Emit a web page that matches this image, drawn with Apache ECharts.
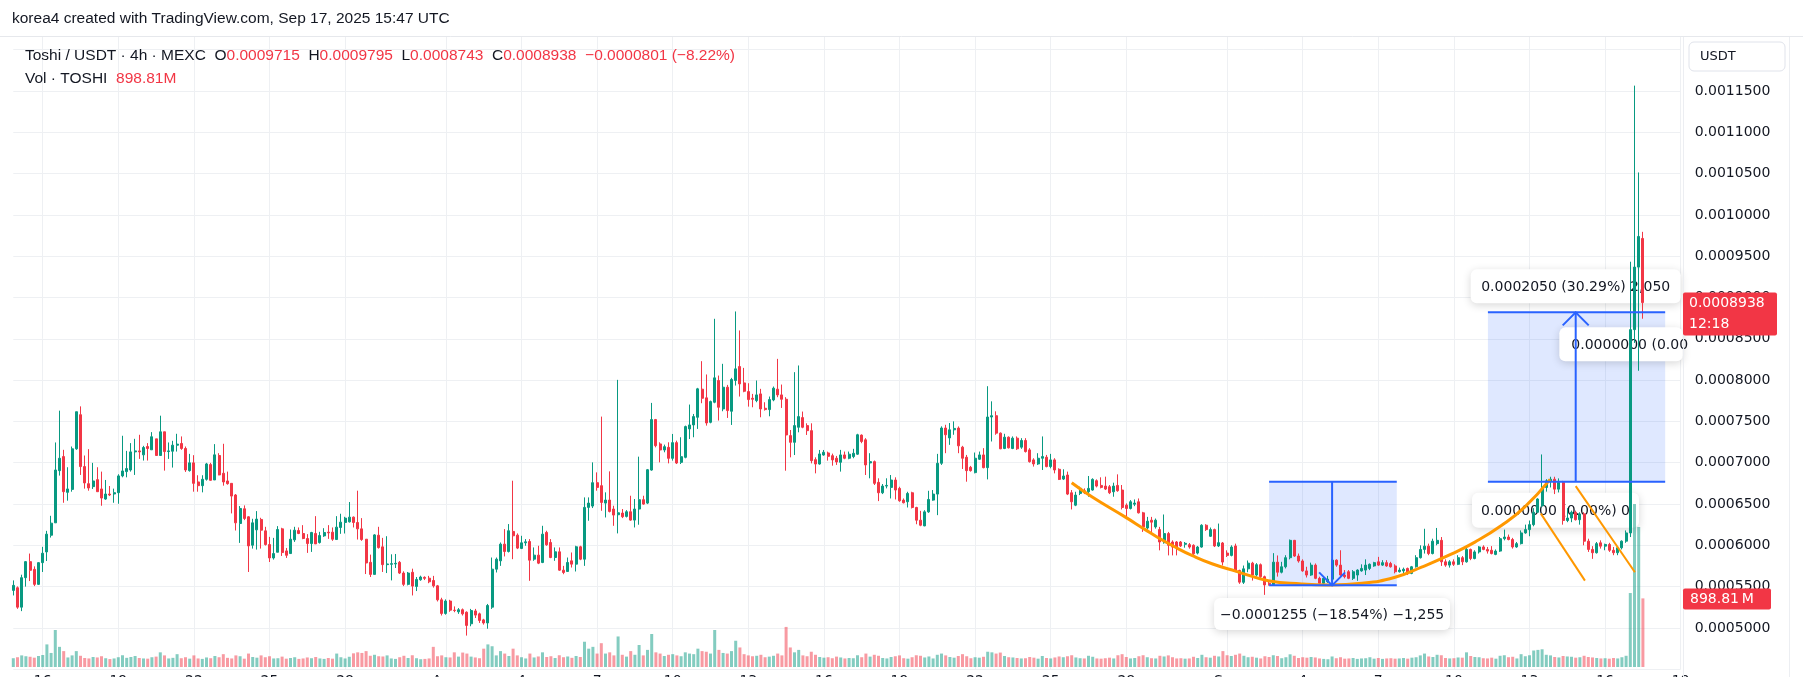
<!DOCTYPE html>
<html>
<head>
<meta charset="utf-8">
<title>Toshi / USDT · 4h · MEXC</title>
<script src="https://cdn.jsdelivr.net/npm/echarts@6/dist/echarts.min.js"></script>
<style>
html,body{margin:0;padding:0;background:#ffffff;overflow:hidden;}
#chart{width:1803px;height:677px;}
</style>
</head>
<body>
<div id="chart"></div>
<script>
// ================= DATA =================
const PRICE_UNIT = 1e-7;                       // prices below are in units of 0.0000001 USDT
const firstCandleUTC = Date.UTC(2025, 6, 14, 20, 0);
const candleHours = 4;
const categoryCount = 398;                     // visible time slots (data + right margin)

// [open, high, low, close]
const candlesJul = [
[5454,5575,5393,5515],[5486,5502,5231,5251],[5251,5644,5203,5608],[5608,5810,5500,5802],[5802,5900,5567,5697],
[5709,5745,5506,5527],[5527,5794,5519,5790],[5790,5981,5677,5904],[5920,6175,5810,6135],[6122,6357,6094,6268],
[6272,7245,6272,6912],[6904,7630,6844,7054],[7074,7156,6515,6649],[6641,6945,6540,6682],[6677,7196,6649,7168],
[7168,7617,7156,7617],[7581,7682,6852,6953],[6953,7087,6686,6755],[6746,7164,6661,6694],[6710,6998,6682,6779],
[6795,6945,6649,6649],[6682,6892,6479,6572],[6560,6791,6552,6621],[6621,6718,6596,6609],[6621,6686,6515,6637],
[6637,6860,6503,6840],[6840,7326,6823,6900],[6892,7143,6823,6929],[6912,7237,6892,7131],[7131,7289,6852,7143],
[7143,7338,7046,7131],[7095,7204,7026,7184],[7196,7237,7026,7172],[7156,7370,7156,7314],[7289,7289,7087,7087],
[7087,7569,7087,7374],[7374,7374,6904,7135],[7135,7245,7046,7143],[7139,7265,6941,7212],[7212,7350,7135,7225],
[7233,7318,7156,7172],[7172,7196,6888,6912],[6904,7107,6892,6998],[6998,7091,6649,6750],[6767,6848,6649,6722],
[6722,6848,6641,6799],[6799,6998,6783,6985],[6977,6998,6783,6787],[6791,7225,6791,7095],[7087,7115,6848,6852],
[6872,7229,6722,6767],[6779,6892,6734,6746],[6750,6750,6386,6596],[6609,6621,6179,6272],[6264,6475,6029,6446],
[6442,6483,6305,6325],[6345,6353,5677,5993],[6001,6321,5960,6272],[6187,6414,5948,6317],[6313,6333,5960,6183],
[6175,6224,5997,6009],[6009,6102,5798,5847],[5847,6090,5827,5900],[5916,6232,5916,6191],[6199,6212,5871,5912],
[5932,5968,5847,5879],[5900,6191,5900,6074],[6066,6224,6041,6183],[6179,6216,6135,6143],[6143,6244,6074,6082],
[6082,6135,5908,6021],[6021,6163,5920,6155],[6143,6353,6017,6017],[6033,6163,6021,6118],[6114,6207,6102,6155],
[6159,6244,6078,6150],[6159,6216,6054,6074],[6070,6353,6070,6220],[6216,6382,6139,6280],[6276,6345,6143,6329],
[6284,6524,6276,6341],[6341,6349,6216,6276],[6276,6661,6070,6199],[6199,6329,6054,6070],[6074,6074,5652,5786],
[5794,5887,5616,5648],[5648,6135,5648,6126],[6122,6224,5960,5972],[5981,6090,5677,5766],[5766,6110,5664,5774],
[5770,5891,5575,5778],[5774,5895,5725,5782],[5794,5810,5652,5664],[5664,5685,5506,5527],[5527,5677,5515,5664],
[5673,5717,5393,5506],[5502,5616,5446,5587],[5583,5632,5571,5616],[5612,5624,5579,5600],[5602,5630,5541,5558],
[5574,5630,5488,5509],[5509,5520,5320,5340],[5340,5365,5150,5175]
];
const candlesAug = [
[5175,5345,5160,5325],[5325,5340,5195,5215],[5215,5260,5190,5210],[5195,5240,5170,5220],[5220,5235,5150,5170],
[5190,5200,4907,5030],[5050,5230,5020,5210],[5205,5230,5120,5155],[5170,5185,5060,5090],[5097,5110,5040,5060],
[5060,5290,4990,5271],[5251,5852,5230,5711],[5711,5852,5671,5832],[5812,6034,5751,6014],[6014,6196,5865,5925],
[5925,6257,5913,6176],[6168,6782,5832,6115],[6123,6144,5954,5966],[5962,6115,5954,6030],[6030,6075,5994,6042],
[6046,6075,5570,5820],[5832,5974,5812,5881],[5881,5994,5772,5784],[5792,6236,5784,6135],[6156,6176,5994,6006],
[6034,6075,5844,5852],[5852,5974,5812,5921],[5921,5974,5691,5699],[5699,5751,5650,5671],[5683,5852,5679,5792],
[5812,5913,5731,5772],[5772,5994,5683,5982],[5982,5994,5820,5832],[5832,6580,5751,6459],[6459,6580,6297,6511],
[6475,7004,6451,6758],[6758,6883,6661,6701],[6722,7558,6418,6519],[6511,6641,6337,6548],[6548,6895,6398,6410],
[6439,6479,6236,6366],[6370,8003,6144,6394],[6390,6439,6329,6346],[6350,6426,6337,6406],[6406,6600,6297,6305],
[6305,6560,6216,6439],[6439,7073,6249,6552],[6552,6600,6491,6499],[6511,6924,6499,6915],[6911,7724,6903,7522],
[7522,7530,7186,7206],[7227,7247,7004,7154],[7154,7219,7126,7194],[7186,7247,6992,7053],[7053,7348,7025,7243],
[7243,7267,6984,6996],[7004,7308,6984,7073],[7065,7449,7053,7437],[7409,7704,7287,7457],[7457,7590,7308,7558],
[7550,7906,7409,7894],[7890,8229,7720,7780],[7785,8068,7449,7481],[7489,7752,7477,7740],[7732,8742,7720,8027],
[7995,8055,7510,7671],[7651,8197,7623,7914],[7914,7942,7542,7631],[7623,8027,7457,8007],[7995,8831,7934,8136],
[8164,8601,7801,7954],[7966,8148,7853,7865],[7861,7962,7679,7764],[7780,7833,7671,7768],[7752,7995,7732,7821],
[7833,7894,7550,7651],[7659,7732,7631,7643],[7643,7801,7562,7764],[7760,7922,7744,7902],[7890,8257,7793,7821],
[7821,7946,7663,7768],[7768,7793,6903,7336],[7328,7396,7065,7247],[7247,8096,7093,7449],[7429,8177,7368,7558],
[7546,7619,7417,7429],[7449,7477,7336,7388],[7388,7477,6992,7025],[7037,7065,6871,6984],[6984,7154,6976,7106],
[7093,7154,7085,7126],[7118,7134,7025,7077],[7085,7110,6964,7034],[7054,7082,6973,7009],[7005,7155,6892,7094],
[7094,7135,7042,7054],[7054,7135,7042,7103],[7074,7168,7054,7114],[7103,7350,7094,7338],[7334,7342,7236,7257],
[7277,7297,6851,6973],[6997,7115,6811,7013],[7013,7026,6730,6750],[6762,6811,6535,6636],[6636,6742,6620,6717],
[6717,6811,6689,6725],[6701,6851,6567,6790],[6790,6823,6555,6669],[6689,6709,6527,6539],[6547,6567,6507,6515],
[6527,6648,6458,6628],[6636,6648,6446,6458],[6458,6466,6255,6304],[6304,6417,6231,6243],[6235,6425,6231,6405],
[6405,6660,6393,6555],[6547,6669,6539,6620],[6620,7107,6365,6993],[6993,7440,6973,7420],[7420,7459,7115,7338],
[7300,7480,7216,7398],[7398,7500,7338,7415],[7419,7439,7115,7204],[7188,7204,6924,7054],[7066,7094,6770,6904],
[6944,6961,6892,6904],[6880,7123,6871,7054],[7042,7135,7034,7094],[7094,7176,6932,6940],[6940,7926,6798,7553],
[7553,7743,7257,7569],[7569,7622,7338,7358],[7358,7366,7164,7168],[7172,7350,7164,7309],[7309,7318,7172,7180],
[7172,7318,7164,7297],[7297,7318,7155,7168],[7188,7297,7168,7269],[7269,7297,7123,7135],[7155,7176,7001,7013],
[7034,7054,6953,6985],[6985,7115,6973,7054],[7054,7318,6912,7074],[7066,7094,6944,6953],[6953,7107,6932,7034],
[7034,7054,6871,6912],[6920,6932,6790,6798],[6802,6920,6790,6839],[6851,6892,6608,6620],[6636,6669,6434,6527],
[6486,6648,6474,6608],[6628,6709,6608,6689],[6661,6689,6620,6636],[6648,6839,6588,6689],[6669,6811,6661,6798],
[6782,6798,6701,6717],[6725,6823,6689,6701],[6717,6831,6669,6681],[6709,6730,6620,6636],[6648,6758,6588,6717],
[6725,6859,6648,6661],[6669,6730,6434,6458],[6486,6507,6344,6446],[6446,6547,6434,6527],[6498,6555,6474,6511],
[6527,6567,6385,6393],[6393,6405,6162,6223],[6210,6344,6190,6292],[6304,6344,6162,6280],[6223,6324,6202,6304],
[6190,6223,5939,6040],[6032,6373,6020,6142],[6142,6162,5878,6000],[6040,6060,5878,5979],[6040,6052,5878,5979],
[6040,6052,5979,5992],[6012,6040,5971,6024],[6008,6028,5959,5979],[6000,6012,5878,5898],[5906,5992,5890,5979],
[5979,6255,5971,6243],[6243,6255,6174,6190],[6109,6215,6101,6190],[6190,6202,5979,5992],[5992,6263,5979,6032],
[6028,6040,5756,5797]
];
const candlesSep = [
[5906,5939,5858,5878],[5878,6000,5866,5979],[5992,6020,5675,5696],[5696,5704,5533,5554],[5552,5755,5532,5715],
[5715,5816,5674,5784],[5784,5800,5573,5640],[5640,5784,5621,5765],[5765,5780,5600,5620],[5620,5633,5400,5520],
[5540,5573,5512,5524],[5524,5905,5512,5796],[5796,5877,5621,5674],[5674,5800,5660,5740],[5740,5880,5720,5850],
[5850,6070,5830,6060],[6060,6065,5860,5870],[5870,5900,5790,5810],[5810,5830,5680,5690],[5690,5740,5610,5640],
[5640,5790,5630,5760],[5760,5780,5590,5600],[5600,5620,5530,5540],[5540,5620,5520,5600],[5560,5630,5545,5590],
[5590,5830,5560,5820],[5820,5830,5740,5760],[5760,5940,5630,5640],[5640,5700,5600,5620],[5680,5700,5590,5600],
[5600,5700,5580,5680],[5640,5710,5570,5700],[5690,5770,5680,5720],[5700,5830,5640,5760],[5720,5780,5700,5770],
[5750,5800,5740,5790],[5800,5860,5750,5760],[5760,5820,5750,5790],[5790,5820,5740,5750],[5780,5800,5730,5740],
[5750,5770,5660,5680],[5680,5730,5670,5700],[5690,5730,5650,5710],[5720,5730,5640,5660],[5660,5750,5650,5740],
[5740,5880,5730,5850],[5850,6000,5840,5950],[5950,6200,5900,5990],[5990,6020,5880,5900],[5900,6080,5890,6050],
[6020,6210,6000,6060],[6060,6100,5750,5800],[5800,5830,5740,5760],[5760,5820,5730,5800],[5800,5830,5750,5770],
[5770,5880,5760,5850],[5850,5870,5760,5800],[5800,5970,5790,5950],[5950,5960,5820,5840],[5840,5940,5830,5920],
[5920,5990,5900,5980],[5980,6000,5940,5950],[5950,5980,5900,5930],[5940,5990,5890,5900],[5890,5950,5880,5930],
[5930,6100,5920,6080],[6080,6190,6060,6100],[6100,6130,6060,6070],[6070,6090,5960,5980],[5980,6040,5970,6020],
[6020,6180,6010,6150],[6150,6250,6140,6190],[6190,6300,6110,6250],[6250,6450,6230,6400],[6400,6570,6390,6560],
[6480,7100,6460,6700],[6700,6800,6650,6780],[6780,6830,6700,6800],[6800,6830,6620,6680],[6680,6810,6640,6760],
[6760,6780,6250,6300],[6300,6450,6280,6330],[6330,6420,6280,6400],[6400,6420,6300,6310],[6310,6400,6250,6380],
[6380,6400,6000,6050],[6050,6080,5920,5950],[5950,5990,5836,5910],[5910,6040,5900,6020],[6030,6060,5960,5990],
[5990,6020,5940,6010],[6010,6030,5920,5940],[5940,5980,5880,5910],[5910,5990,5880,5970],[5970,6060,5950,6050],
[6050,6180,6030,6150],[6150,9433,6100,8611],[8611,11565,8450,9368],[9368,10514,8113,9739],[9715,9795,8743,8938]
];

// volume, millions of TOSHI
const volumeJul = [
115,128,152,141,134,122,144,157,296,184, 485,264,208,125,152,208,147,118,112,131,
125,141,115,104,112,128,154,120,131,144, 118,112,109,128,136,192,152,112,120,168,
115,128,109,152,112,106,125,115,144,128, 168,120,112,152,141,109,176,131,122,152,
128,141,112,115,136,109,118,128,106,112, 125,115,131,112,106,118,109,176,128,112,
134,179,192,184,208,147,160,141,138,152, 112,106,128,147,118,154,115,102,106,112,
264,141,152
];
const volumeAug = [
128,125,192,136,189,176,136,
125,115,240,296,272,152,208,176,144,240, 152,128,112,176,125,138,192,131,141,118,
154,128,138,120,144,131,331,240,264,176, 312,176,192,152,400,160,136,208,160,288,
152,224,432,192,176,144,160,168,152,141, 192,176,168,240,208,200,176,485,224,184,
176,208,344,256,168,152,141,147,160,128, 136,147,176,152,525,256,192,224,152,141,
200,160,131,122,128,115,136,125,112,118, 115,154,128,176,136,160,147,118,112,131,
141,152,115,109,128,154,147,125,138,112, 160,176,152,131,122,144,168,141,115,128,
122,134,200,192,176,189,144,128,125,118, 112,115,131,122,109,144,118,112,125,138,
128,141,154,125,115,112,147,134,112,109, 115,122,112,154,168,131,112,118,141,154,
128,115,112,147,138,152,128,112,115,109, 112,134,118,160,128,122,147,138,208
];
const volumeSep = [
154,
144,160,176,147,128,134,122,112,141,131, 154,144,115,128,166,147,118,128,122,131,
125,112,106,102,138,115,128,109,112,118, 106,112,115,128,109,118,106,112,115,109,
112,118,109,122,128,152,176,138,131,160, 154,118,112,115,125,122,192,144,131,128,
115,112,122,109,147,154,128,134,112,168, 141,154,216,224,232,160,152,131,125,144,
138,134,122,128,147,131,125,118,112,115, 109,118,112,128,147,969,2135,1834,898.81
];

// time-axis tick labels (candle index -> text)
const tickIndex  = [7,25,43,61,79,103,121,139,157,175,193,211,229,247,265,289,307,325,343,361,379,397];
const tickLabels = ['16','19','22','25','28','Aug','4','7','10','13','16','19','22','25','28','Sep','4','7','10','13','16','19'];

// price axis: [min, max, step]
const priceAxis = [0.00045, 0.00125, 0.00005];
const volumeAxisMax = 3930;   // millions

// drawings, [candle index, price units]
const cupCurve = [[252,6758],[256.8,6588],[264.7,6344],[269.5,6190],[272.7,6089],[276.6,5979],[280.6,5878],
  [285.4,5777],[291.2,5685],[298.8,5572],[306.8,5532],[313.5,5520],[321.1,5540],[329,5613],[335.3,5735],
  [341.7,5877],[348,6039],[354.4,6242],[359.9,6465],[365.9,6798]];
const dropLine1 = [[363.7,6384],[374.2,5572]];
const dropLine2 = [[372,6717],[386.1,5674]];
// [from index, to index, arrow index, start price, end price]
const measureDown = [299, 329.4, 314, 6770, 5515];
const measureUp   = [351.1, 393.3, 372, 6770, 8820];
const measureTexts = ['\u22120.0001255 (\u221218.54%) \u22121,255', '0.0002050 (30.29%) 2,050', '0.0000000 (0.00%) 0', '0.0000000 (0.00'];
const countdownText = '12:18';
const headerText = 'korea4 created with TradingView.com, Sep 17, 2025 15:47 UTC';

// ================= BUILD =================
const candles = candlesJul.concat(candlesAug, candlesSep);
const volumes = volumeJul.concat(volumeAug, volumeSep);
const categories = [];
for (let i = 0; i < categoryCount; i++) {
  categories.push(new Date(firstCandleUTC + i * candleHours * 3600e3).toISOString().slice(0, 16));
}
const kData = candles.map(c => [c[0] * PRICE_UNIT, c[3] * PRICE_UNIT, c[2] * PRICE_UNIT, c[1] * PRICE_UNIT]);
const UP = '#089981', DOWN = '#f23645';
const volData = volumes.map((v, i) => ({
  value: v,
  itemStyle: { color: candles[i][3] >= candles[i][0] ? 'rgba(8,153,129,0.5)' : 'rgba(242,54,69,0.5)' }
}));
const tickSet = new Set(tickIndex);
const last = candles[candles.length - 1];
const prev = candles[candles.length - 2];
const lastClose = last[3] * PRICE_UNIT;
const P = v => (v * PRICE_UNIT).toFixed(7);
const chg = last[3] - prev[3];
const chgText = (chg < 0 ? '\u2212' : '+') + (Math.abs(chg) * PRICE_UNIT).toFixed(7) +
  ' (' + (chg < 0 ? '\u2212' : '+') + (Math.abs(chg) / prev[3] * 100).toFixed(2) + '%)';
const lastVol = volumes[volumes.length - 1];

const AXIS_FONT = 'DejaVu Sans';
const UI_FONT = 'Liberation Sans';
const GRID_COLOR = '#eef0f3';

const chart = echarts.init(document.getElementById('chart'), null, { renderer: 'canvas', width: 1803, height: 677 });

const option = {
  animation: false,
  backgroundColor: '#ffffff',
  textStyle: { fontFamily: AXIS_FONT },
  grid: [
    { left: 13.3, right: 122.3, top: 8.4, bottom: 7.8, containLabel: false, outerBoundsMode: 'none' },
    { left: 13.3, right: 122.3, top: 367, bottom: 10, containLabel: false, outerBoundsMode: 'none' }
  ],
  xAxis: [
    {
      type: 'category', gridIndex: 0, data: categories, boundaryGap: false,
      axisLine: { show: false }, axisTick: { show: false },
      axisLabel: {
        interval: (i) => tickSet.has(i),
        formatter: (v, i) => tickLabels[tickIndex.indexOf(i)] || '',
        color: '#131722', fontSize: 14, fontFamily: AXIS_FONT, margin: 5
      },
      splitLine: { show: true, interval: (i) => tickSet.has(i), lineStyle: { color: GRID_COLOR, width: 1 } }
    },
    { type: 'category', gridIndex: 1, data: categories, boundaryGap: false, show: false },
    { type: 'value', gridIndex: 0, min: 0, max: categoryCount - 1, show: false, position: 'top' }
  ],
  yAxis: [
    {
      type: 'value', gridIndex: 0, position: 'right',
      min: priceAxis[0], max: priceAxis[1], interval: priceAxis[2],
      axisLine: { show: false }, axisTick: { show: false },
      axisLabel: {
        margin: 14, color: '#131722', fontSize: 14, fontFamily: AXIS_FONT,
        formatter: v => (v > 0.000499 && v < 0.001151) ? v.toFixed(7) : ''
      },
      splitLine: { show: true, lineStyle: { color: GRID_COLOR, width: 1 } }
    },
    { type: 'value', gridIndex: 1, min: 0, max: volumeAxisMax, show: false }
  ],
  series: [
    {
      type: 'bar', name: 'Vol', xAxisIndex: 1, yAxisIndex: 1, data: volData,
      barWidth: 3, z: 2, silent: true
    },
    {
      type: 'candlestick', name: 'TOSHI', xAxisIndex: 0, yAxisIndex: 0, data: kData,
      barWidth: 2.4, z: 3, silent: true,
      itemStyle: { color: UP, color0: DOWN, borderColor: UP, borderColor0: DOWN, borderWidth: 1 },
      markLine: {
        silent: true, symbol: ['none', 'none'], label: { show: false },
        lineStyle: { color: DOWN, type: 'dotted', width: 1 },
        data: [{ yAxis: lastClose }]
      }
    },
    {
      type: 'line', name: 'cup', xAxisIndex: 2, yAxisIndex: 0, z: 5, silent: true,
      data: cupCurve.map(p => [p[0], p[1] * PRICE_UNIT]), smooth: 0.5, symbol: 'none',
      lineStyle: { color: '#ff9800', width: 3 }
    },
    {
      type: 'line', name: 'drop1', xAxisIndex: 2, yAxisIndex: 0, z: 5, silent: true,
      data: dropLine1.map(p => [p[0], p[1] * PRICE_UNIT]), symbol: 'none',
      lineStyle: { color: '#ff9800', width: 2 }
    },
    {
      type: 'line', name: 'drop2', xAxisIndex: 2, yAxisIndex: 0, z: 5, silent: true,
      data: dropLine2.map(p => [p[0], p[1] * PRICE_UNIT]), symbol: 'none',
      lineStyle: { color: '#ff9800', width: 2 }
    }
  ]
};
chart.setOption(option);

// ---------- overlay drawn at positions converted through the axes ----------
const X = v => chart.convertToPixel({ xAxisIndex: 2 }, v);
const Y = v => chart.convertToPixel({ yAxisIndex: 0 }, v * PRICE_UNIT);
const YV = v => chart.convertToPixel({ yAxisIndex: 1 }, v);
const paneRight = X(categoryCount - 1) + 2;
const BLUE = '#2962ff';
const g = [];

function txt(x, y, text, opts) {
  return {
    type: 'text', x: x, y: y, z: opts.z || 1,
    style: {
      text: text, fill: opts.fill || '#131722',
      font: (opts.size || 14) + 'px "' + (opts.family || AXIS_FONT) + '"',
      textAlign: opts.align || 'left', align: opts.align || 'left',
      textVerticalAlign: 'middle', verticalAlign: 'middle', rich: opts.rich
    }
  };
}
function labelBox(cx, top, w, h, text) {
  g.push({ type: 'rect', z: 1, shape: { x: cx - w / 2, y: top, width: w, height: h, r: 6 },
    style: { fill: '#ffffff', shadowBlur: 8, shadowColor: 'rgba(0,0,0,0.16)', shadowOffsetY: 2 } });
  g.push(txt(cx, top + h / 2 + 1, text, { z: 1, align: 'center' }));
}
function seg(x1, y1, x2, y2) {
  g.push({ type: 'line', z: 6, shape: { x1: x1, y1: y1, x2: x2, y2: y2 }, style: { stroke: BLUE, lineWidth: 2 } });
}

// measurement boxes
[measureDown, measureUp].forEach(m => {
  const x0 = X(m[0]), x1 = X(m[1]);
  const ya = Y(m[3]), yb = Y(m[4]);
  g.push({ type: 'rect', z: 1, shape: { x: x0, y: Math.min(ya, yb), width: x1 - x0, height: Math.abs(yb - ya) },
    style: { fill: 'rgba(41,98,255,0.15)' } });
});
[measureDown, measureUp].forEach(m => {
  const x0 = X(m[0]), x1 = X(m[1]), xa = X(m[2]);
  const ya = Y(m[3]), yb = Y(m[4]);
  seg(x0, ya, x1, ya);
  seg(x0, yb, x1, yb);
  seg(xa, ya, xa, yb);
  const dir = yb > ya ? -1 : 1;
  g.push({ type: 'polyline', z: 6, shape: { points: [[xa - 13, yb + dir * 13], [xa, yb], [xa + 13, yb + dir * 13]] },
    style: { stroke: BLUE, lineWidth: 2, fill: null } });
});

// measurement labels (behind candles)
labelBox(X(measureDown[2]), Y(measureDown[4]) + 12.6, 236, 32, measureTexts[0]);
labelBox(X(measureUp[2]), Y(measureUp[4]) - 9 - 34, 210, 34, measureTexts[1]);
labelBox(X(367.2), Y(measureUp[3]) + 11, 167, 35, measureTexts[2]);
(function () {
  const left = X(368.1), top = Y(measureUp[4]) + 15;
  g.push({ type: 'rect', z: 1, shape: { x: left, y: top, width: paneRight - left, height: 34, r: 6 },
    style: { fill: '#ffffff', shadowBlur: 8, shadowColor: 'rgba(0,0,0,0.16)', shadowOffsetY: 2 } });
  g.push(txt(left + 12, top + 18, measureTexts[3], { z: 1 }));
})();

// header
g.push({ type: 'rect', z: 100, shape: { x: 0, y: 0, width: 1803, height: 36 }, style: { fill: '#ffffff' } });
g.push({ type: 'line', z: 100, shape: { x1: 0, y1: 36.5, x2: 1803, y2: 36.5 }, style: { stroke: '#e6e8ec', lineWidth: 1 } });
g.push(txt(12, 19, headerText, { z: 101, family: UI_FONT, size: 15.5 }));

// price-scale separators
g.push({ type: 'line', z: 1, shape: { x1: 1683.5, y1: 37, x2: 1683.5, y2: 677 }, style: { stroke: '#eceef2', lineWidth: 1 } });
g.push({ type: 'line', z: 1, shape: { x1: 1789.5, y1: 37, x2: 1789.5, y2: 677 }, style: { stroke: '#eceef2', lineWidth: 1 } });

// legend
const rich = {
  k: { fill: '#131722', fontSize: 15.5, fontFamily: UI_FONT },
  v: { fill: '#f23645', fontSize: 15.5, fontFamily: UI_FONT }
};
g.push(txt(25, 56,
  '{k|Toshi / USDT \u00b7 4h \u00b7 MEXC}  {k|O}{v|' + P(last[0]) + '}  {k|H}{v|' + P(last[1]) + '}  {k|L}{v|' +
  P(last[2]) + '}  {k|C}{v|' + P(last[3]) + '}  {v|' + chgText + '}', { z: 101, family: UI_FONT, size: 15.5, rich: rich }));
g.push(txt(25, 79, '{k|Vol \u00b7 TOSHI}  {v|' + lastVol.toFixed(2) + 'M}', { z: 101, family: UI_FONT, size: 15.5, rich: rich }));

// USDT button
g.push({ type: 'rect', z: 100, shape: { x: 1689, y: 42, width: 96, height: 29, r: 5 },
  style: { fill: '#ffffff', stroke: '#e0e3eb', lineWidth: 1 } });
g.push(txt(1700, 57, 'USDT', { z: 101, size: 13 }));

// last price label
const yp = Y(last[3]);
g.push({ type: 'rect', z: 100, shape: { x: 1683, y: yp - 10, width: 94, height: 43, r: 2 }, style: { fill: '#f23645' } });
g.push(txt(1689, yp + 1, P(last[3]), { z: 101, fill: '#ffffff' }));
g.push(txt(1689, yp + 22, countdownText, { z: 101, fill: '#ffffff' }));

// last volume label
const yv = YV(lastVol);
g.push({ type: 'rect', z: 100, shape: { x: 1683, y: yv - 10, width: 88, height: 21, r: 2 }, style: { fill: '#f23645' } });
g.push(txt(1690, yv + 1, lastVol.toFixed(2) + '\u2009M', { z: 101, fill: '#ffffff' }));

chart.setOption({ graphic: g });
</script>
</body>
</html>
